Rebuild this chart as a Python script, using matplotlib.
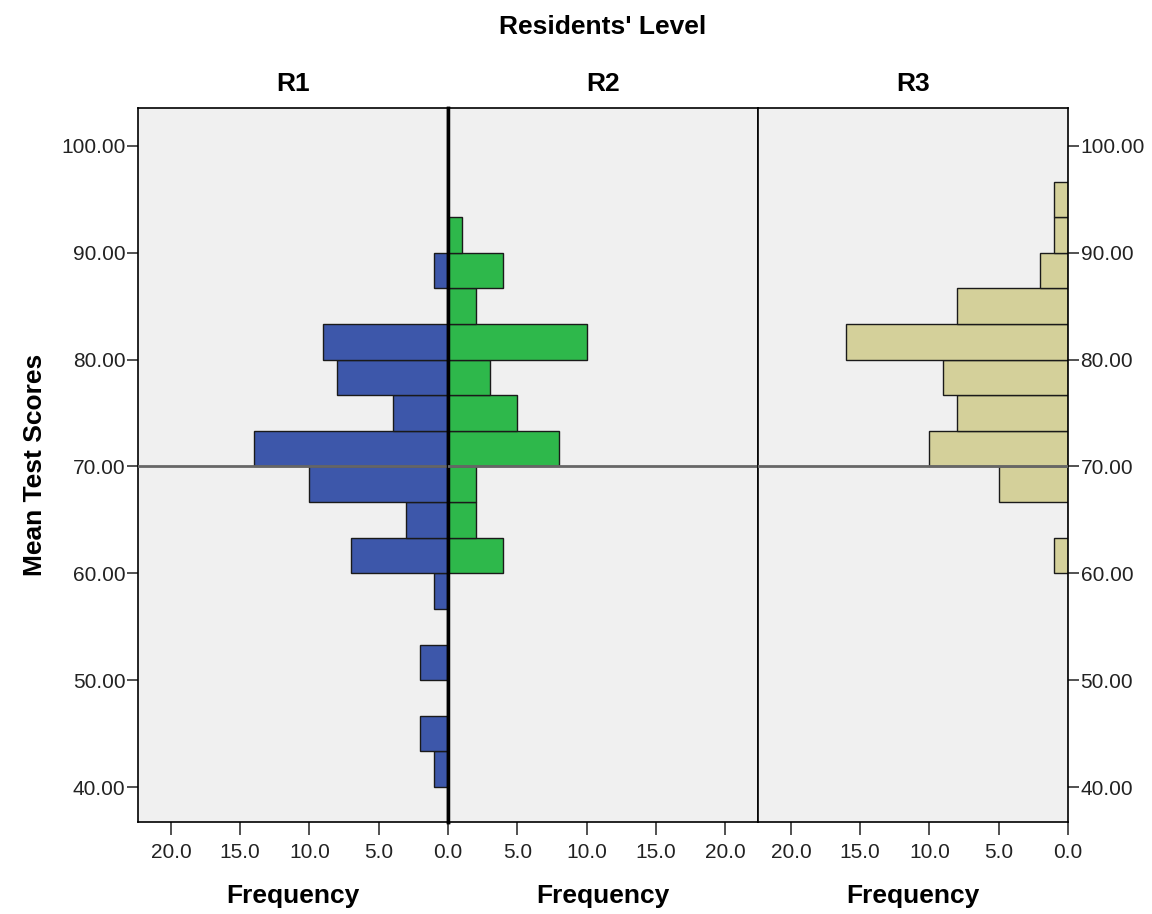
import numpy as np
import matplotlib.pyplot as plt

plt.rcParams['font.family'] = ['Liberation Sans', 'DejaVu Sans']

# score bins: 40 to 100 in steps of 10/3
bin_width = 10 / 3
bin_starts = 40 + bin_width * np.arange(18)

# frequencies per bin (lowest bin first)
r1_counts = [1, 2, 0, 2, 0, 1, 7, 3, 10, 14, 4, 8, 9, 0, 1, 0, 0, 0]
r2_counts = [0, 0, 0, 0, 0, 0, 4, 2, 2, 8, 5, 3, 10, 2, 4, 1, 0, 0]
r3_counts = [0, 0, 0, 0, 0, 0, 1, 0, 5, 10, 8, 9, 16, 8, 2, 1, 1, 0]

levels = ['R1', 'R2', 'R3']
colors = ['#3d57aa', '#2eb84b', '#d4d09a']
y_ticks = [40, 50, 60, 70, 80, 90, 100]
x_ticks = [0, 5, 10, 15, 20]
ref_score = 70.0

fig = plt.figure(figsize=(11.52, 9.14), dpi=100)
W, H = 1152, 914
left, top, bottom, pw = 138, 108, 822, 310

xmax = 22.38
ylim = (36.73, 103.55)

axes = []
for i, (lvl, counts, col) in enumerate(zip(levels, [r1_counts, r2_counts, r3_counts], colors)):
    ax = fig.add_axes([(left + i * pw) / W, (H - bottom) / H, pw / W, (bottom - top) / H])
    ax.set_facecolor('#f0f0f0')
    ax.barh(bin_starts, counts, height=bin_width, align='edge', color=col,
            edgecolor='#1a1a1a', linewidth=1.0, zorder=2)
    ax.axhline(ref_score, color='#666666', lw=2, zorder=3)
    ax.set_ylim(*ylim)
    if i == 1:
        ax.set_xlim(0, xmax)
        ax.set_xticks(x_ticks[1:])
    else:
        ax.set_xlim(xmax, 0)
        ax.set_xticks(x_ticks)
    ax.set_xticklabels([f'{t:.1f}' for t in ax.get_xticks()])
    ax.tick_params(axis='x', direction='out', length=9, width=1.2, labelsize=15,
                   pad=6, color='#333333', labelcolor='#222222')
    ax.set_yticks(y_ticks)
    ax.set_yticklabels([f'{t:.2f}' for t in y_ticks])
    ax.tick_params(axis='y', direction='out', length=8, width=1.2, labelsize=15,
                   pad=1, color='#333333', labelcolor='#222222')
    if i == 0:
        ax.tick_params(axis='y', left=True, right=False, labelleft=True, labelright=False)
    elif i == 2:
        ax.tick_params(axis='y', left=False, right=True, labelleft=False, labelright=True)
    else:
        ax.tick_params(axis='y', left=False, right=False, labelleft=False, labelright=False)
    for s in ax.spines.values():
        s.set_color('black')
        s.set_linewidth(1.2)
    ax.set_title(lvl, fontsize=19, fontweight='bold', pad=12)
    ax.set_xlabel('Frequency', fontsize=19, fontweight='bold', labelpad=16)
    axes.append(ax)

# zero line between the first two panels
axes[0].spines['right'].set_linewidth(2.5)
axes[1].spines['left'].set_linewidth(2.5)

axes[0].set_ylabel('Mean Test Scores', fontsize=19, fontweight='bold', labelpad=10)

fig.text(603 / W, 1 - 27 / H, "Residents' Level", ha='center', va='center',
         fontsize=19, fontweight='bold')

fig.savefig('out.png', dpi=100, facecolor='white')
